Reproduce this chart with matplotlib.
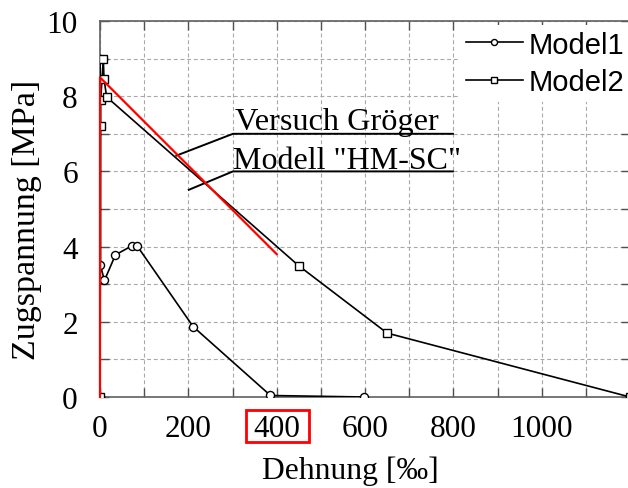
import matplotlib
matplotlib.use("Agg")
import matplotlib.pyplot as plt
from matplotlib.ticker import MultipleLocator
from matplotlib.patches import Rectangle
import matplotlib.transforms as mtransforms

# strain [‰] and tensile stress [MPa]
model1_strain = [0, 0, 1, 10, 35, 72, 84, 211, 386, 598]
model1_stress = [0, 9.0, 3.5, 3.1, 3.78, 4.02, 4.02, 1.87, 0.04, 0.0]

model2_strain = [0, 1.5, 1.5, 7.5, 9, 15, 450, 650, 1200]
model2_stress = [0, 7.2, 7.9, 9.0, 8.47, 7.98, 3.49, 1.7, 0.0]

test_strain = [0, 0, 400]
test_stress = [0, 8.5, 3.8]

x_ticks = [0, 200, 400, 600, 800, 1000]
y_ticks = [0, 2, 4, 6, 8, 10]

serif = ["Liberation Serif", "DejaVu Serif"]
sans = ["Liberation Sans", "DejaVu Sans"]

fig = plt.figure(figsize=(6.28, 4.89), dpi=100)
ax = fig.add_axes([100 / 628, 91 / 489, 530 / 628, 376 / 489])

ax.plot(model1_strain, model1_stress, color="black", lw=1.2, marker="o",
        ms=5.8, mfc="white", mec="black", mew=1.0, label="Model1", zorder=3)
ax.plot(model2_strain, model2_stress, color="black", lw=1.2, marker="s",
        ms=5.8, mfc="white", mec="black", mew=1.0, label="Model2", zorder=3)
ax.plot(test_strain, test_stress, color="#ff0000", lw=1.6, zorder=4,
        clip_on=False)

ax.set_xlim(0, 1200)
ax.set_ylim(0, 10)
ax.xaxis.set_major_locator(MultipleLocator(200))
ax.xaxis.set_minor_locator(MultipleLocator(100))
ax.yaxis.set_major_locator(MultipleLocator(2))
ax.yaxis.set_minor_locator(MultipleLocator(1))
ax.set_xticks(x_ticks)
ax.set_yticks(y_ticks)
ax.set_xticklabels([str(v) for v in x_ticks])
ax.set_yticklabels([str(v) for v in y_ticks])

ax.grid(True, which="both", color="#a8a8a8", lw=0.8, ls=(0, (3.5, 2.5)))
ax.set_axisbelow(True)
ax.tick_params(which="both", direction="in", length=6.5, width=1.0,
               color="#505050", top=True, right=True)
ax.tick_params(axis="x", which="major", pad=12.5)
ax.tick_params(axis="y", which="major", pad=16)
for s in ax.spines.values():
    s.set_color("#606060")
    s.set_linewidth(1.2)

for lab in ax.get_xticklabels() + ax.get_yticklabels():
    lab.set_fontfamily(serif)
    lab.set_fontsize(22.5)

ax.set_xlabel("Dehnung [‰]", fontfamily=serif, fontsize=22.8)
ax.set_ylabel("Zugspannung [MPa]", fontfamily=serif, fontsize=24.5)
ax.xaxis.set_label_coords(0.472, -0.155)
ax.yaxis.set_label_coords(-0.11, 0.473)

# red frame around the 400 tick label
trans = mtransforms.blended_transform_factory(ax.transData, ax.transAxes)
ax.add_patch(Rectangle((330, -0.119), 143, 0.085, transform=trans,
                       fill=False, ec="#ff0000", lw=2.0, clip_on=False))

# labelled leader lines
ax.plot([173, 301, 799], [6.42, 7.0, 7.0], color="black", lw=1.4, zorder=2)
ax.text(306, 7.13, "Versuch Gröger", fontfamily=serif, fontsize=23.2,
        va="baseline", ha="left")
ax.plot([201, 301, 799], [5.51, 6.0, 6.0], color="black", lw=1.4, zorder=2)
ax.text(302, 6.09, 'Modell "HM-SC"', fontfamily=serif, fontsize=23,
        va="baseline", ha="left")

leg = ax.legend(loc="upper right", bbox_to_anchor=(1.0, 0.99),
                prop={"family": sans, "size": 21}, frameon=True,
                fancybox=False, framealpha=1.0, edgecolor="none",
                handlelength=1.95, handletextpad=0.2, labelspacing=0.33,
                borderpad=0.2, borderaxespad=0.0, markerscale=0.75)
leg.set_zorder(5)

fig.savefig("out.png", dpi=100)
